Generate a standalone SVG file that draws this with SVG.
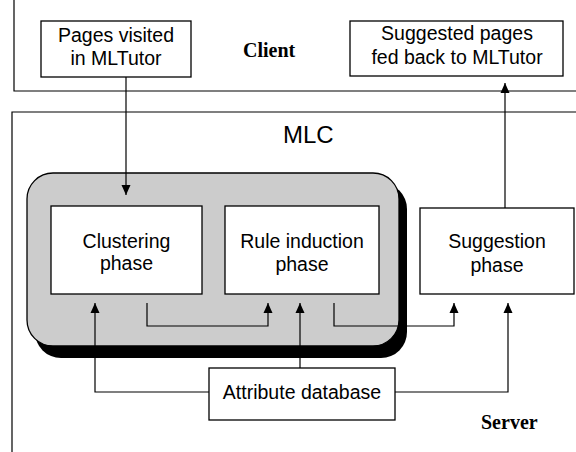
<svg xmlns="http://www.w3.org/2000/svg" width="576" height="452" viewBox="0 0 576 452">
<style>
.box{fill:#fff;stroke:#000;stroke-width:1.3}
.t{font-family:"Liberation Sans",Arial,sans-serif;font-size:19.5px;fill:#000;text-anchor:middle}
.b{font-family:"Liberation Serif","Times New Roman",serif;font-size:20px;font-weight:bold;fill:#000}
.ln{fill:none;stroke:#000;stroke-width:1.2}
.ar{fill:none;stroke:#000;stroke-width:1.2;marker-end:url(#ah)}
</style>
<defs>
<marker id="ah" viewBox="0 0 10 10" refX="10" refY="5" markerWidth="10" markerHeight="10" markerUnits="userSpaceOnUse" orient="auto">
<path d="M0,0.5 L10,5 L0,9.5 z" fill="#000"/>
</marker>
</defs>
<rect width="576" height="452" fill="#fff"/>
<g id="client-region">
<path class="ln" d="M14,0 V91 H576" stroke-width="1.6"/>
<text class="b" x="243" y="57">Client</text>
</g>
<g id="server-region">
<path class="ln" d="M12,452 V112 H576" stroke-width="1.3"/>
<text class="b" x="481" y="429">Server</text>
</g>
<g id="mlc">
<text x="283" y="143" style="font-family:'Liberation Sans',Arial,sans-serif;font-size:24px">MLC</text>
<rect x="35" y="183" width="372" height="175" rx="26" ry="26" fill="#000"/>
<rect x="27" y="173" width="372" height="173" rx="26" ry="26" fill="#cccccc" stroke="#000" stroke-width="1.3"/>
</g>
<g id="pages-visited">
<rect class="box" x="41" y="21" width="150" height="56"/>
<text class="t" x="116" y="42">Pages visited</text>
<text class="t" x="116" y="65">in MLTutor</text>
</g>
<g id="suggested-pages">
<rect class="box" x="350" y="21" width="213" height="55"/>
<text class="t" x="457" y="40">Suggested pages</text>
<text class="t" x="457" y="64">fed back to MLTutor</text>
</g>
<g id="clustering">
<rect class="box" x="51" y="206" width="151" height="88"/>
<text class="t" x="126.5" y="248">Clustering</text>
<text class="t" x="126.5" y="270">phase</text>
</g>
<g id="rule-induction">
<rect class="box" x="225" y="206" width="154" height="88"/>
<text class="t" x="302" y="248">Rule induction</text>
<text class="t" x="302" y="271">phase</text>
</g>
<g id="suggestion">
<rect class="box" x="420" y="208" width="154" height="86"/>
<text class="t" x="497" y="248">Suggestion</text>
<text class="t" x="497" y="272">phase</text>
</g>
<g id="attribute-db">
<rect class="box" x="209" y="368" width="186" height="52"/>
<text class="t" x="302" y="399">Attribute database</text>
</g>
<g id="connectors">
<path class="ar" d="M126,77 V195"/>
<path class="ar" d="M505,208 V83"/>
<path class="ar" d="M209,392 H95 V303"/>
<path class="ar" d="M300,368 V303"/>
<path class="ar" d="M147,303 V326 H268 V303"/>
<path class="ar" d="M334,303 V326 H454 V303"/>
<path class="ar" d="M395,392 H508 V303"/>
</g>
</svg>
